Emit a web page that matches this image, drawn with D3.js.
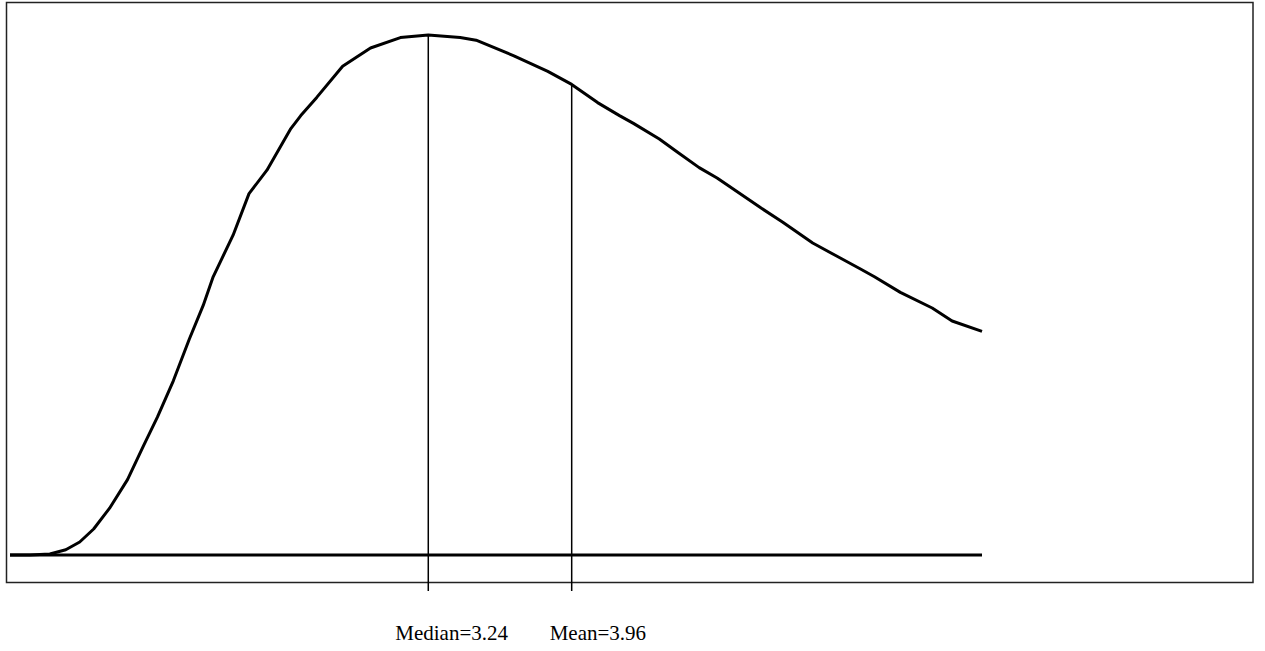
<!DOCTYPE html>
<html>
<head>
<meta charset="utf-8">
<script src="https://cdn.jsdelivr.net/npm/d3@7"></script>
<style>
  html, body { margin: 0; padding: 0; background: #fff; }
  svg { display: block; }
</style>
</head>
<body>
<div id="chart"></div>
<script>
// curve: x value, density
const xValues = [1.14, 1.24, 1.34, 1.42, 1.49, 1.56, 1.64, 1.73, 1.81, 1.88, 1.96, 2.04, 2.11, 2.16,
  2.26, 2.34, 2.43, 2.55, 2.60, 2.68, 2.81, 2.95, 3.10, 3.24, 3.40, 3.48, 3.67, 3.84, 3.96, 4.09,
  4.20, 4.27, 4.40, 4.49, 4.60, 4.69, 4.90, 5.02, 5.17, 5.29, 5.41, 5.48, 5.61, 5.77, 5.87, 6.02];
const densities = [0, 0, 0.0004, 0.002, 0.005, 0.010, 0.018, 0.029, 0.042, 0.053, 0.067, 0.083, 0.096, 0.107,
  0.123, 0.139, 0.148, 0.164, 0.169, 0.176, 0.188, 0.195, 0.199, 0.200, 0.199, 0.198, 0.192, 0.186, 0.181, 0.174,
  0.169, 0.166, 0.160, 0.155, 0.149, 0.145, 0.134, 0.128, 0.120, 0.115, 0.110, 0.107, 0.101, 0.095, 0.090, 0.086];

const markerNames = ['Median', 'Mean'];
const markerValues = [3.24, 3.96];
const labelShift = [-33, -22];

const width = 1265;
const height = 651;

const svg = d3.select('#chart')
  .append('svg')
  .attr('width', width)
  .attr('height', height);

const x = d3.scaleLinear()
  .domain([d3.min(xValues), d3.max(xValues)])
  .range([10, 982]);
const y = d3.scaleLinear()
  .domain([0, 0.2])
  .range([555, 35]);

const points = xValues.map((v, i) => ({ x: v, d: densities[i] }));
const densityAt = d3.scaleLinear().domain(xValues).range(densities);

// frame
svg.append('rect')
  .attr('x', 6.5)
  .attr('y', 2.5)
  .attr('width', 1246.5)
  .attr('height', 580)
  .attr('fill', 'none')
  .attr('stroke', '#222')
  .attr('stroke-width', 1.5);

// baseline
svg.append('line')
  .attr('x1', x(d3.min(xValues)))
  .attr('x2', x(d3.max(xValues)))
  .attr('y1', y(0))
  .attr('y2', y(0))
  .attr('stroke', '#000')
  .attr('stroke-width', 3);

// median / mean markers
const markers = markerValues.map((v, i) => ({ name: markerNames[i], value: v, shift: labelShift[i] }));

svg.selectAll('.marker')
  .data(markers)
  .enter()
  .append('line')
  .attr('class', 'marker')
  .attr('x1', d => x(d.value))
  .attr('x2', d => x(d.value))
  .attr('y1', d => y(densityAt(d.value)))
  .attr('y2', 591)
  .attr('stroke', '#000')
  .attr('stroke-width', 1.5);

svg.selectAll('.marker-label')
  .data(markers)
  .enter()
  .append('text')
  .attr('class', 'marker-label')
  .attr('x', d => x(d.value) + d.shift)
  .attr('y', 640)
  .attr('font-family', '"Liberation Serif", "Times New Roman", serif')
  .attr('font-size', 21)
  .attr('fill', '#000')
  .text(d => `${d.name}=${d.value}`);

// the curve
const line = d3.line()
  .x(d => x(d.x))
  .y(d => y(d.d));

svg.append('path')
  .datum(points)
  .attr('d', line)
  .attr('fill', 'none')
  .attr('stroke', '#000')
  .attr('stroke-width', 3)
  .attr('stroke-linejoin', 'round');
</script>
</body>
</html>
